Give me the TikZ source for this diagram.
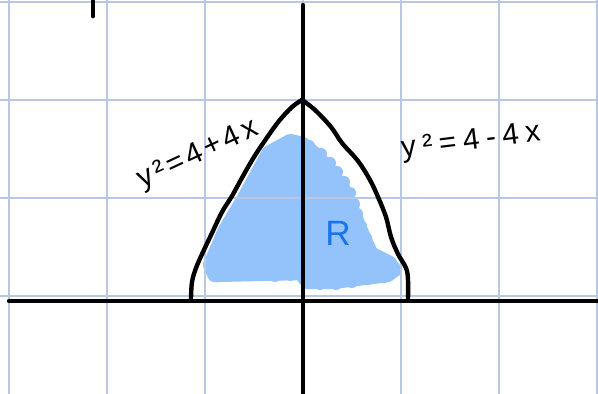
\documentclass[tikz,border=0pt]{standalone}
\usepackage{fontspec}
\setmainfont{Liberation Sans}
\definecolor{gridblue}{RGB}{184,200,228}
\definecolor{fillblue}{RGB}{148,194,251}
\definecolor{rblue}{RGB}{26,115,232}
\tikzset{
  gridline/.style={gridblue, line width=0.8pt},
  axisline/.style={black, line width=2.5pt, line cap=round},
  curveline/.style={black, line width=2.5pt, line cap=round, line join=round},
  eqlabel/.style={font=\fontsize{17}{17}\selectfont\addfontfeature{LetterSpace=12}, inner sep=0pt},
  scallop/.style={fillblue},
}
\begin{document}
\begin{tikzpicture}[x=0.02cm, y=-0.02cm]
\useasboundingbox (0,0) rectangle (598,394);
\fill[white] (0,0) rectangle (598,394);
% shaded region R
\filldraw[fillblue, line width=7pt, line join=round]
  (290,140) -- (303,143) -- (318,155) -- (331,171) -- (344,188) -- (351,204) -- (358,221)
  -- (366,240) -- (372,253) -- (390,262) -- (396,270) -- (388,276) -- (333,283) -- (307,283)
  -- (300,274) -- (214,276) -- (209,265) -- (224,230) -- (243,198) -- (268,152) -- cycle;
\foreach \cx/\cy in {309/146,321/154,330/163,337/172,344/182,350/193,354/204,357/214,361/226,366/238,370/249,380/258,391/263,396/270,
  384/277,368/279,352/282,336/284,320/284,309/281,290/275,275/276,260/274,245/275,230/275,215/272,212/262}
  \fill[scallop] (\cx,\cy) circle (6);
% grid
\foreach \gx in {9,107,205,303,401,499,597} \draw[gridline] (\gx,0) -- (\gx,394);
\foreach \gy in {2,100,198,296} \draw[gridline] (0,\gy) -- (598,\gy);
% axes
\coordinate (xl) at (9,301);
\coordinate (xr) at (600,301);
\coordinate (yt) at (303,5);
\coordinate (yb) at (303,396);
\draw[axisline] (xl) -- (xr);
\draw[axisline] (yt) -- (yb);
% top-left tick
\coordinate (tt) at (93,-2);
\coordinate (tb) at (93,16);
\draw[black, line width=2.8pt, line cap=round] (tt) -- (tb);
% curves
\draw[curveline] plot[smooth, tension=0.6] coordinates {(191,299) (192,282) (196,268) (203,252) (212,233) (222,212) (232,196) (243,176) (254,157) (266,139) (279,121) (292,107) (302,100)};
\draw[curveline] plot[smooth, tension=0.6] coordinates {(302,100) (315,110) (331,127) (342,143) (358,161) (370,180) (378,197) (386,217) (391,237) (398,254) (406,268) (408,280) (408,299)};
% labels
\node[eqlabel, rotate=25] (lefteq) at (198,155) {y²=4+4x};
\node[eqlabel, rotate=7, font=\fontsize{17}{17}\selectfont\addfontfeature{LetterSpace=22}] (righteq) at (471,142) {y²=4-4x};
\node[rblue, font=\fontsize{20}{20}\selectfont, inner sep=0pt] (reg) at (338,233) {R};
\end{tikzpicture}
\end{document}
